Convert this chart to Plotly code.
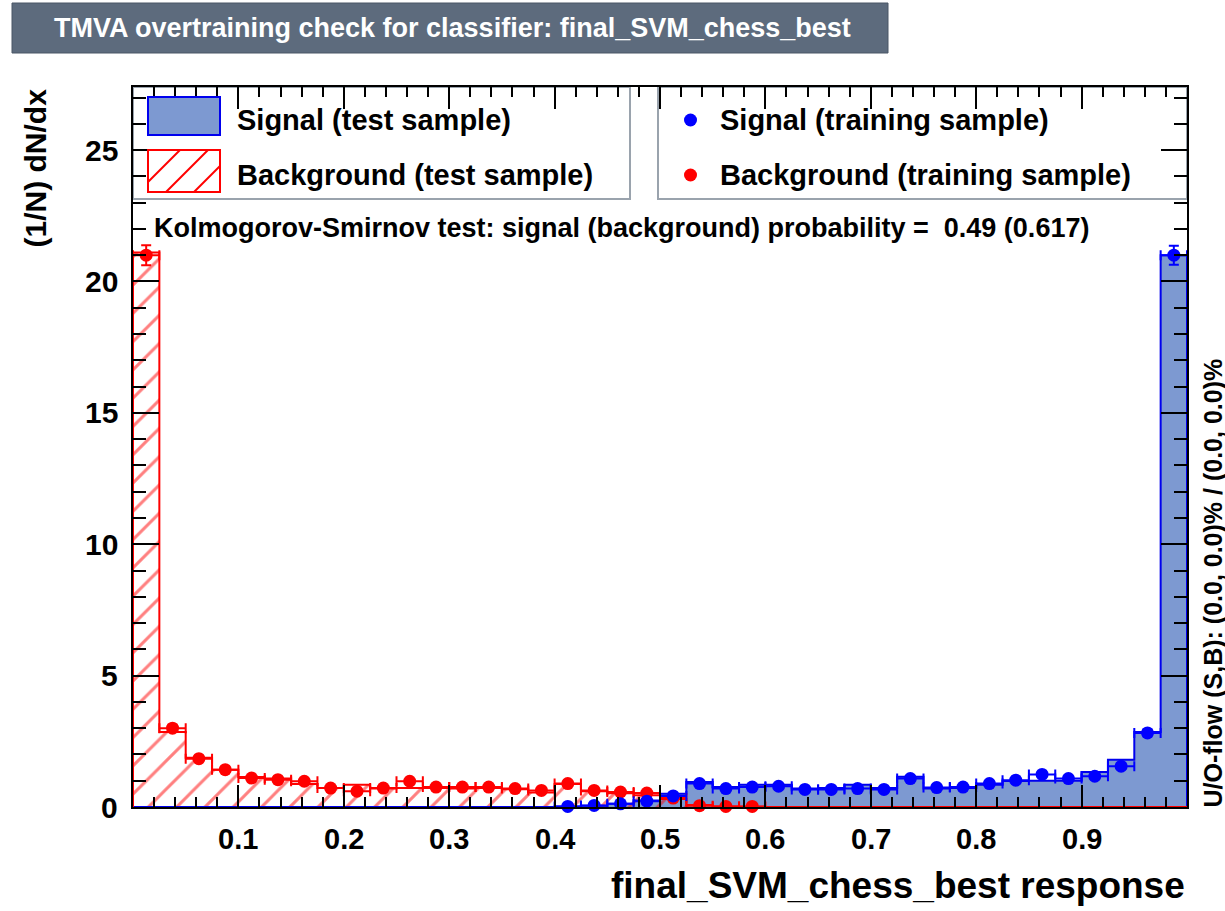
import plotly.graph_objects as go

# ---------------- data ----------------
n_bins = 40
x_min, x_max = 0.0, 1.0

bkg_test = [21.1, 2.85, 1.87, 1.42, 1.14, 1.08, 0.88, 0.72, 0.85, 0.70,
            0.72, 0.72, 0.70, 0.72, 0.68, 0.55, 0.88, 0.60, 0.52, 0.45,
            0.30, 0.08, 0.02, 0.01, 0, 0, 0, 0, 0, 0,
            0, 0, 0, 0, 0, 0, 0, 0, 0, 0]

sig_test = [0, 0, 0, 0, 0, 0, 0, 0, 0, 0,
            0, 0, 0, 0, 0, 0, 0.02, 0.05, 0.12, 0.25,
            0.50, 0.95, 0.76, 0.85, 0.85, 0.70, 0.72, 0.85, 0.72, 1.15,
            0.70, 0.72, 0.85, 0.99, 1.00, 1.00, 1.33, 1.80, 2.85, 21.0]

# training samples (points): bin index, value, error
bkg_train_bins = list(range(0, 24))
bkg_train_vals = [21.0, 3.0, 1.84, 1.42, 1.10, 1.04, 0.98, 0.72, 0.60, 0.72,
                  0.98, 0.76, 0.76, 0.76, 0.70, 0.63, 0.89, 0.63, 0.57, 0.53,
                  0.34, 0.05, 0.02, 0.02]
bkg_train_errs = [0.38, 0.13, 0.10, 0.09, 0.08, 0.075, 0.07, 0.065, 0.06, 0.065,
                  0.07, 0.065, 0.065, 0.065, 0.06, 0.06, 0.07, 0.06, 0.055, 0.055,
                  0.045, 0.015, 0.01, 0.01]

sig_train_bins = list(range(16, 40))
sig_train_vals = [0.02, 0.06, 0.12, 0.22, 0.42, 0.89, 0.70, 0.76, 0.79, 0.67,
                  0.67, 0.70, 0.67, 1.08, 0.74, 0.76, 0.89, 1.02, 1.24, 1.08,
                  1.17, 1.55, 2.82, 21.0]
sig_train_errs = [0.01, 0.02, 0.03, 0.04, 0.055, 0.07, 0.065, 0.065, 0.07, 0.06,
                  0.06, 0.065, 0.06, 0.08, 0.065, 0.065, 0.07, 0.075, 0.085, 0.08,
                  0.08, 0.095, 0.13, 0.36]

x_tick_vals = [0.1, 0.2, 0.3, 0.4, 0.5, 0.6, 0.7, 0.8, 0.9]
x_tick_text = ["0.1", "0.2", "0.3", "0.4", "0.5", "0.6", "0.7", "0.8", "0.9"]
y_tick_vals = [0, 5, 10, 15, 20, 25]
y_tick_text = ["0", "5", "10", "15", "20", "25"]
y_range = [0, 27.4]

title_text = "TMVA overtraining check for classifier: final_SVM_chess_best"
x_title = "final_SVM_chess_best response"
y_title = "(1/N) dN/dx"
ks_text = "Kolmogorov-Smirnov test: signal (background) probability =  0.49 (0.617)"
uo_text = "U/O-flow (S,B): (0.0, 0.0)% / (0.0, 0.0)%"
leg_left = ["Signal (test sample)", "Background (test sample)"]
leg_right = ["Signal (training sample)", "Background (training sample)"]

# ---------------- styling ----------------
FONT = "Liberation Sans, Arial, Helvetica, sans-serif"
SIG_FILL = "#7d99d1"
SIG_LINE = "#0000ee"
BKG_LINE = "#ff0000"
SIG_PT = "#0000ff"
BKG_PT = "#ff0000"

W, H = 1225, 911
L, R, T, B = 133, 1187, 87, 807


def px(x):
    return (x - L) / (R - L)


def py(y):
    return (B - y) / (B - T)


bw = (x_max - x_min) / n_bins
centers = [x_min + bw * (i + 0.5) for i in range(n_bins)]
edges = [x_min + bw * i for i in range(n_bins + 1)]

fig = go.Figure()

# signal test histogram (filled)
fig.add_trace(go.Bar(x=centers, y=sig_test, width=bw,
                     marker=dict(color=SIG_FILL, line=dict(width=0)),
                     showlegend=False, hoverinfo="skip"))
fig.add_trace(go.Scatter(x=[edges[0]] + edges, y=[0] + sig_test + [sig_test[-1]],
                         mode="lines", line=dict(color=SIG_LINE, width=2, shape="hv"),
                         showlegend=False, hoverinfo="skip"))
fig.add_trace(go.Scatter(x=[edges[-1], edges[-1]], y=[sig_test[-1], 0],
                         mode="lines", line=dict(color=SIG_LINE, width=2),
                         showlegend=False, hoverinfo="skip"))

# background test histogram (hatched)
fig.add_trace(go.Bar(x=centers, y=bkg_test, width=bw,
                     marker=dict(color="rgba(0,0,0,0)", line=dict(width=0),
                                 pattern=dict(shape="/", fgcolor=BKG_LINE,
                                              bgcolor="rgba(0,0,0,0)",
                                              size=20, solidity=0.15,
                                              fillmode="overlay")),
                     showlegend=False, hoverinfo="skip"))
fig.add_trace(go.Scatter(x=[edges[0]] + edges, y=[0] + bkg_test + [bkg_test[-1]],
                         mode="lines", line=dict(color=BKG_LINE, width=2, shape="hv"),
                         showlegend=False, hoverinfo="skip"))

# training points
for bins_, vals, errs, col in [(bkg_train_bins, bkg_train_vals, bkg_train_errs, BKG_PT),
                               (sig_train_bins, sig_train_vals, sig_train_errs, SIG_PT)]:
    fig.add_trace(go.Scatter(
        x=[centers[i] for i in bins_], y=vals, mode="markers",
        marker=dict(color=col, size=13, symbol="circle"),
        error_y=dict(type="data", array=errs, color=col, thickness=2, width=5),
        error_x=dict(type="constant", value=bw / 2, color=col, thickness=2, width=5),
        cliponaxis=False,
        showlegend=False, hoverinfo="skip"))

shapes = []
annotations = []

# title box
shapes.append(dict(type="rect", xref="paper", yref="paper",
                   x0=px(12), x1=px(888), y0=py(53), y1=py(3),
                   fillcolor="#5d6b7d", line=dict(color="#4a5666", width=1), layer="above"))
annotations.append(dict(text=title_text, xref="paper", yref="paper",
                        x=px(452), y=py(28), xanchor="center", yanchor="middle",
                        showarrow=False,
                        font=dict(family=FONT, size=27, color="white", weight="bold")))

# legend boxes
LEG_BORDER = "#9aa3ad"
shapes.append(dict(type="rect", xref="paper", yref="paper",
                   x0=px(133), x1=px(630), y0=py(199), y1=py(87),
                   fillcolor="white", line=dict(color=LEG_BORDER, width=2), layer="below"))
shapes.append(dict(type="rect", xref="paper", yref="paper",
                   x0=px(658), x1=px(1187), y0=py(199), y1=py(87),
                   fillcolor="white", line=dict(color=LEG_BORDER, width=2), layer="below"))

# legend swatch: filled signal
shapes.append(dict(type="rect", xref="paper", yref="paper",
                   x0=px(148), x1=px(220), y0=py(135), y1=py(97),
                   fillcolor=SIG_FILL, line=dict(color=SIG_LINE, width=2), layer="above"))
# legend swatch: hatched background
sx0, sx1, sy0, sy1 = 148, 220, 150, 192
shapes.append(dict(type="rect", xref="paper", yref="paper",
                   x0=px(sx0), x1=px(sx1), y0=py(sy1), y1=py(sy0),
                   fillcolor="white", line=dict(color=BKG_LINE, width=2), layer="above"))
c = sx0 + sy1 - 10
while c < sx1 + sy1 + 28:
    xa = max(sx0, c - sy1)
    xb = min(sx1, c - sy0)
    if xb > xa + 1:
        shapes.append(dict(type="line", xref="paper", yref="paper",
                           x0=px(xa), y0=py(c - xa), x1=px(xb), y1=py(c - xb),
                           line=dict(color=BKG_LINE, width=2), layer="above"))
    c += 28

# legend markers (training)
for yy, col in [(120, SIG_PT), (175, BKG_PT)]:
    shapes.append(dict(type="circle", xref="paper", yref="paper",
                       x0=px(684), x1=px(697), y0=py(yy + 6.5), y1=py(yy - 6.5),
                       fillcolor=col, line=dict(color=col, width=0), layer="above"))

LEG_FONT = dict(family=FONT, size=29, color="black", weight="bold")
for txt, yy in zip(leg_left, [120, 175]):
    annotations.append(dict(text=txt, xref="paper", yref="paper", x=px(235), y=py(yy),
                            xanchor="left", yanchor="middle", showarrow=False, font=LEG_FONT))
for txt, yy in zip(leg_right, [120, 175]):
    annotations.append(dict(text=txt, xref="paper", yref="paper", x=px(718), y=py(yy),
                            xanchor="left", yanchor="middle", showarrow=False, font=LEG_FONT))

# KS text
annotations.append(dict(text=ks_text, xref="paper", yref="paper", x=px(152), y=py(228),
                        xanchor="left", yanchor="middle", showarrow=False,
                        font=dict(family=FONT, size=27, color="black", weight="bold")))

# tick labels (placed on the axis scales)
TICK_FONT = dict(family=FONT, size=29, color="black", weight="bold")
for v, t in zip(x_tick_vals, x_tick_text):
    annotations.append(dict(text=t, xref="x", yref="paper", x=v, y=py(839),
                            xanchor="center", yanchor="middle", showarrow=False,
                            font=TICK_FONT))
for v, t in zip(y_tick_vals, y_tick_text):
    annotations.append(dict(text=t, xref="paper", yref="y", x=px(120), y=v,
                            xanchor="right", yanchor="middle", showarrow=False,
                            font=dict(family=FONT, size=30, color="black", weight="bold")))

# axis titles
annotations.append(dict(text=x_title, xref="paper", yref="paper", x=px(1187), y=py(885),
                        xanchor="right", yanchor="middle", showarrow=False,
                        font=dict(family=FONT, size=37, color="black", weight="bold")))
annotations.append(dict(text=y_title, xref="paper", yref="paper", x=px(35), y=py(87),
                        xanchor="center", yanchor="top", textangle=-90, showarrow=False,
                        font=dict(family=FONT, size=30, color="black", weight="bold")))
annotations.append(dict(text=uo_text, xref="paper", yref="paper", x=px(1212), y=py(810),
                        xanchor="center", yanchor="bottom", textangle=-90, showarrow=False,
                        font=dict(family=FONT, size=25, color="black", weight="bold")))

fig.update_layout(
    width=W, height=H,
    margin=dict(l=L, r=W - R, t=T, b=H - B, pad=0),
    paper_bgcolor="white", plot_bgcolor="white",
    barmode="overlay", bargap=0,
    showlegend=False,
    shapes=shapes, annotations=annotations,
    xaxis=dict(range=[x_min, x_max], showgrid=False, zeroline=False,
               showline=True, linecolor="black", linewidth=2, mirror="ticks",
               ticks="inside", ticklen=22, tickwidth=2, tickcolor="black",
               tickvals=x_tick_vals, showticklabels=False,
               minor=dict(ticks="inside", dtick=0.02, tick0=0, ticklen=10,
                          tickwidth=2, tickcolor="black", showgrid=False)),
    yaxis=dict(range=y_range, showgrid=False, zeroline=False,
               showline=True, linecolor="black", linewidth=2, mirror="ticks",
               ticks="inside", ticklen=26, tickwidth=2, tickcolor="black",
               tickvals=y_tick_vals, showticklabels=False,
               minor=dict(ticks="inside", dtick=1, tick0=0, ticklen=13,
                          tickwidth=2, tickcolor="black", showgrid=False)),
)

fig.write_html("out.html")
